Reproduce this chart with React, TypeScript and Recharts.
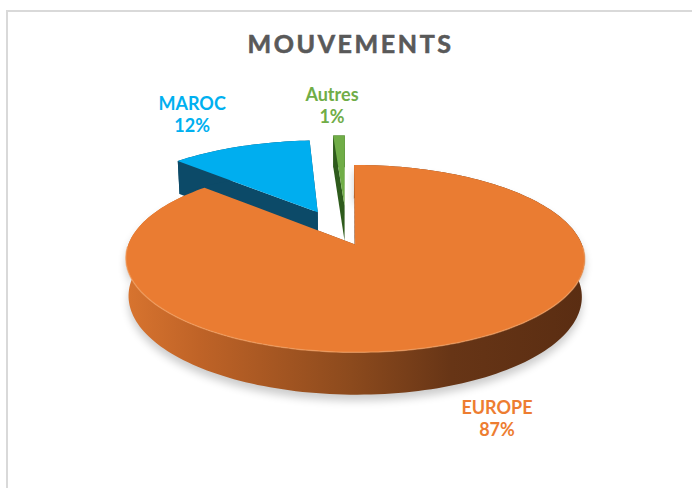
import React from 'react';
import { PieChart, Pie } from 'recharts';

// ---------- data ----------
const categories = ['EUROPE', 'MAROC', 'Autres'];
const shares = [87, 12, 1];
const chartTitle = 'MOUVEMENTS';

const data = categories.map((name, i) => ({ name, value: shares[i] }));

// ---------- styles ----------
const TOP_COLORS: Record<string, string> = { EUROPE: '#ea7c32', MAROC: '#00aeef', Autres: '#70ad47' };
const SIDE_COLORS: Record<string, string> = { EUROPE: 'url(#europeWall)', MAROC: '#0c4a68', Autres: '#2e5b1c' };
const RADIAL_COLORS: Record<string, string> = { EUROPE: '#7a3d17', MAROC: '#0c4a68', Autres: '#2e5b1c' };
const LABEL_COLORS: Record<string, string> = { EUROPE: '#ed7d31', MAROC: '#00b0f0', Autres: '#70ad47' };
const EXPLODE: Record<string, number> = { EUROPE: 0.09, MAROC: 0.32, Autres: 0.37 };
const LABEL_OFFSET: Record<string, [number, number]> = { EUROPE: [36, 72], MAROC: [-48, -36], Autres: [-7, -34] };

const RAD = Math.PI / 180;
const TILT = 23.5 * RAD;
const SIN = Math.sin(TILT);
const COS = Math.cos(TILT);
const DIST = 6.15;
const DEPTH = 0.182;
const FONT = 'Lato, "Open Sans", sans-serif';

function project(cx: number, cy: number, s: number, X: number, Y: number, h: number): [number, number] {
  const w = 1 + (Y * COS - h * SIN) / DIST;
  return [cx + (s * X) / w, cy - (s * (Y * SIN + h * COS)) / w];
}

function nameOf(p: any): string {
  return (p.payload && p.payload.name) || p.name;
}

function geom(p: any) {
  const { cx, cy, outerRadius: s, startAngle, endAngle, midAngle } = p;
  const name = nameOf(p);
  const e = EXPLODE[name] ?? 0;
  const ox = e * Math.cos(midAngle * RAD);
  const oy = e * Math.sin(midAngle * RAD);
  const n = Math.max(2, Math.ceil(Math.abs(endAngle - startAngle) / 1.5));
  const angles: number[] = [];
  for (let i = 0; i <= n; i++) angles.push(startAngle + ((endAngle - startAngle) * i) / n);
  const P = (X: number, Y: number, h: number) => project(cx, cy, s, X, Y, h);
  const top = angles.map((a) => P(ox + Math.cos(a * RAD), oy + Math.sin(a * RAD), 0));
  const bot = angles.map((a) => P(ox + Math.cos(a * RAD), oy + Math.sin(a * RAD), -DEPTH));
  const front = angles.filter((a) => Math.sin(a * RAD) < -0.02).map((a) => P(ox + Math.cos(a * RAD), oy + Math.sin(a * RAD), 0));
  const tipT = P(ox, oy, 0);
  const tipB = P(ox, oy, -DEPTH);
  const rim = P(ox + Math.cos(midAngle * RAD), oy + Math.sin(midAngle * RAD), 0);
  return { name, top, bot, tipT, tipB, rim, front };
}

const f = (pt: [number, number]) => `${pt[0].toFixed(2)},${pt[1].toFixed(2)}`;
const line = (arr: [number, number][]) => arr.map(f).join(' L ');

const renderWalls = (p: any) => {
  const g = geom(p);
  const band = `M ${line(g.top)} L ${line([...g.bot].reverse())} Z`;
  const r1 = `M ${f(g.tipT)} L ${f(g.top[0])} L ${f(g.bot[0])} L ${f(g.tipB)} Z`;
  const last = g.top.length - 1;
  const r2 = `M ${f(g.tipT)} L ${f(g.top[last])} L ${f(g.bot[last])} L ${f(g.tipB)} Z`;
  return (
    <g key={`w-${p.index}`}>
      {p.index === 0 && (
        <defs>
          <linearGradient id="europeWall" x1="0" y1="0" x2="1" y2="0">
            <stop offset="0" stopColor="#d8742f" />
            <stop offset="0.16" stopColor="#bf6327" />
            <stop offset="0.49" stopColor="#8c4a1d" />
            <stop offset="0.71" stopColor="#673516" />
            <stop offset="1" stopColor="#5a2d12" />
          </linearGradient>
          <filter id="softShadow" x="-20%" y="-50%" width="140%" height="200%">
            <feGaussianBlur stdDeviation="4" />
          </filter>
        </defs>
      )}
      {g.name === 'EUROPE' && (
        <path d={band} fill="#000" opacity={0.2} filter="url(#softShadow)" transform="translate(0,6)" />
      )}
      <path d={r1} fill={RADIAL_COLORS[g.name]} />
      <path d={r2} fill={RADIAL_COLORS[g.name]} />
      <path d={band} fill={SIDE_COLORS[g.name]} />
    </g>
  );
};

const renderTops = (p: any) => {
  const g = geom(p);
  const d = `M ${f(g.tipT)} L ${line(g.top)} Z`;
  return (
    <g key={`t-${p.index}`}>
      <path d={d} fill={TOP_COLORS[g.name]} />
      {g.front.length > 1 && g.name === 'EUROPE' && (
        <path d={`M ${line(g.front)}`} fill="none" stroke="#f2a062" strokeWidth={1.5} opacity={0.6} />
      )}
    </g>
  );
};

const renderText = (p: any) => {
  const g = geom(p);
  const [dx, dy] = LABEL_OFFSET[g.name];
  const x = g.rim[0] + dx;
  const y = g.rim[1] + dy;
  return (
    <text key={`l-${p.index}`} x={x} y={y} textAnchor="middle" fill={LABEL_COLORS[g.name]}
      fontFamily={FONT} fontWeight={700} fontSize={18}>
      <tspan x={x} dy={0}>{g.name}</tspan>
      <tspan x={x} dy={21.5}>{`${Math.round(p.percent * 100)}%`}</tspan>
    </text>
  );
};

const pieCommon = {
  data,
  dataKey: 'value',
  nameKey: 'name',
  cx: 347,
  cy: 237,
  outerRadius: 224,
  startAngle: 90,
  endAngle: -270,
  fill: 'none',
  stroke: 'none',
  isAnimationActive: false,
  labelLine: false,
};

export default function App() {
  return (
    <div style={{ position: 'fixed', left: 0, top: 0, width: 692, height: 488, overflow: 'hidden', background: '#fff' }}>
      <div style={{ position: 'absolute', left: 6, top: 10, width: 720, height: 520, border: '2px solid #d9d9d9', boxSizing: 'border-box' }} />
      <div style={{ position: 'absolute', left: 0, top: 0 }}>
        <PieChart width={692} height={488} margin={{ top: 0, right: 0, bottom: 0, left: 0 }}>
          <text x={350.5} y={53} textAnchor="middle" fill="#595959" stroke="#595959" strokeWidth={0.6}
            fontFamily={FONT} fontWeight={700} fontSize={25} letterSpacing={2.6}>
            {chartTitle}
          </text>
          <Pie {...(pieCommon as any)} label={renderWalls} />
          <Pie {...(pieCommon as any)} label={renderTops} />
          <Pie {...(pieCommon as any)} label={renderText} />
        </PieChart>
      </div>
    </div>
  );
}
